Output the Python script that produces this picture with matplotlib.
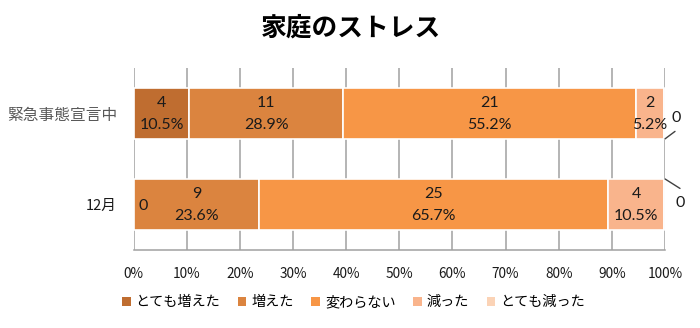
import matplotlib
matplotlib.use("Agg")
import matplotlib.pyplot as plt
from matplotlib.patches import Patch

plt.rcParams['font.family'] = ['Noto Sans CJK JP', 'DejaVu Sans']
num_font = ['Lato', 'Noto Sans CJK JP', 'DejaVu Sans']

title = "家庭のストレス"
categories = ["緊急事態宣言中", "12月"]
series_names = ["とても増えた", "増えた", "変わらない", "減った", "とても減った"]
counts = [
    [4, 11, 21, 2, 0],
    [0, 9, 25, 4, 0],
]
percents = [
    [10.5, 28.9, 55.2, 5.2, 0.0],
    [0.0, 23.6, 65.7, 10.5, 0.0],
]
colors = ["#BF6D30", "#DB843F", "#F79646", "#F9B48C", "#FBD3B6"]
xticks = list(range(0, 101, 10))

fig = plt.figure(figsize=(7.0, 3.28), dpi=100)
ax = fig.add_axes([0.191, 0.238, 0.759, 0.555])

ypos = [1, 0]
bar_h = 0.56
for r, y in enumerate(ypos):
    left = 0.0
    for s in range(len(series_names)):
        w = percents[r][s]
        ax.barh(y, w, left=left, height=bar_h, color=colors[s],
                edgecolor="white", linewidth=1.2, zorder=3)
        c = counts[r][s]
        if w > 0:
            ax.text(left + w / 2, y - 0.01, f"{c}\n{w:.1f}%", ha="center", va="center",
                    fontsize=11.5, color="#1A1A1A", linespacing=1.7,
                    family=num_font, zorder=4)
        left += w

label_kw = dict(ha="center", va="center", fontsize=11.5, color="#1A1A1A",
                family=num_font, annotation_clip=False, zorder=4)
line_kw = dict(arrowstyle="-", color="#404040", lw=1.0, shrinkA=0, shrinkB=0)

# zero-valued segments
ax.annotate("0", xy=(0, 0), xytext=(9, -2), textcoords="offset pixels", **label_kw)
# とても減った = 0 on each row, labelled outside with a leader line
ax.annotate("0", xy=(100, 1 - bar_h / 2), xytext=(11, 21),
            textcoords="offset pixels", **label_kw)
ax.annotate("", xy=(100, 1 - bar_h / 2), xytext=(10, 7.5),
            textcoords="offset pixels", annotation_clip=False, arrowprops=line_kw)
ax.annotate("0", xy=(100, 0 + bar_h / 2), xytext=(15, -24),
            textcoords="offset pixels", **label_kw)
ax.annotate("", xy=(100, 0 + bar_h / 2), xytext=(15, -9.5),
            textcoords="offset pixels", annotation_clip=False, arrowprops=line_kw)

ax.set_xlim(0, 100)
ax.set_ylim(-0.5, 1.5)
ax.set_xticks(xticks)
ax.set_xticklabels([f"{t}%" for t in xticks], fontsize=9.8, color="#1A1A1A")
ax.set_yticks(ypos)
ax.set_yticklabels(categories)
ytl = ax.get_yticklabels()
ytl[0].set_fontsize(11.3)
ytl[0].set_color("#595959")
ytl[1].set_fontsize(10.5)
ytl[1].set_color("#1A1A1A")
ax.tick_params(length=0, pad=12)
ax.tick_params(axis="y", pad=12)
ax.grid(axis="x", color="#A0A0A0", linewidth=1.1, zorder=0)
for side in ["top", "right", "left"]:
    ax.spines[side].set_visible(False)
ax.spines["bottom"].set_color("#A0A0A0")
ax.spines["bottom"].set_linewidth(1.1)

fig.suptitle(title, x=0.502, y=0.955, fontsize=18.5, fontweight="bold", color="black")

handles = [Patch(facecolor=c, edgecolor="none") for c in colors]
fig.legend(handles, series_names, loc="center", bbox_to_anchor=(0.505, 0.078),
           ncol=5, frameon=False, fontsize=10.2, handlelength=0.6, handleheight=0.6,
           handletextpad=0.35, columnspacing=1.25)

fig.savefig("out.png", dpi=100)
